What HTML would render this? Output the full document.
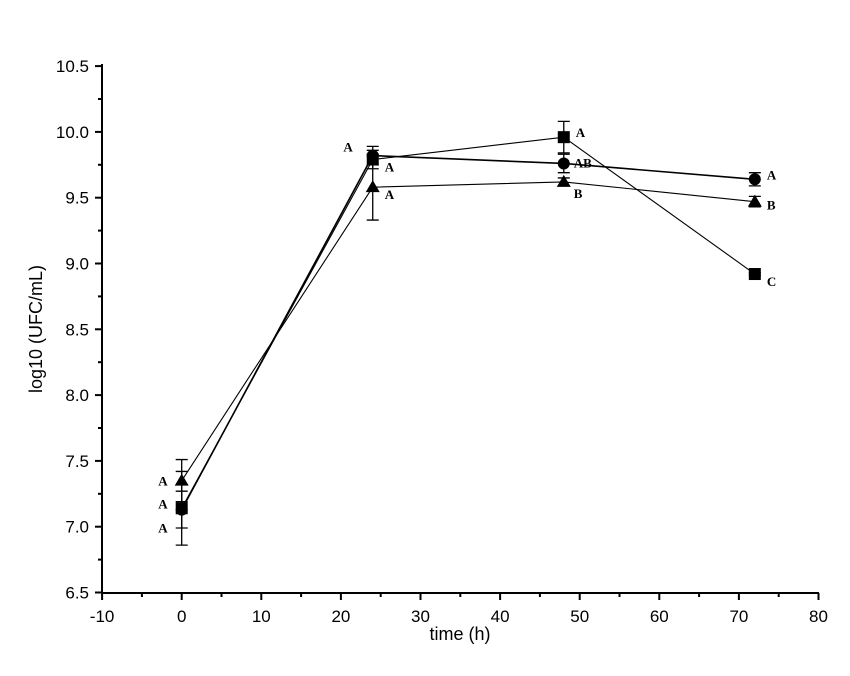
<!DOCTYPE html>
<html><head><meta charset="utf-8"><style>
body{margin:0;background:#fff}
svg{display:block;font-family:"Liberation Sans",sans-serif}
.lt{font-family:"Liberation Serif",serif;font-weight:bold;font-size:13px}
</style></head><body>
<svg width="850" height="676" id="c">
<text x="460" y="640" text-anchor="middle" font-size="18">time (h)</text>
<text transform="translate(42,329) rotate(-90)" text-anchor="middle" font-size="18">log10 (UFC/mL)</text>
</svg>
<script>
const times=[0,24,48,72];
const squareVals=[7.14,9.79,9.96,8.92];
const squareErr=[0.28,0.07,0.12,0.01];
const circleVals=[7.13,9.82,9.76,9.64];
const circleErr=[0.14,0.07,0.07,0.05];
const triVals=[7.35,9.58,9.62,9.47];
const triErr=[0.16,0.25,0.03,0.04];
const xTicks=[-10,0,10,20,30,40,50,60,70,80];
const yTicks=[6.5,7.0,7.5,8.0,8.5,9.0,9.5,10.0,10.5];
const letters=[
 ['A',0,7.35,-14,5],['A',0,7.14,-14,0],['A',0,7.0,-14,6],
 ['A',24,9.82,-20,-4],['A',24,9.79,12,12],['A',24,9.58,12,12],
 ['A',48,9.96,12,0],['AB',48,9.76,10,4],['B',48,9.62,10,16],
 ['A',72,9.64,12,0],['B',72,9.47,12,8],['C',72,8.92,12,12]];
const NS='http://www.w3.org/2000/svg',svg=document.getElementById('c');
const X=v=>181.7+(v)*7.96, Y=v=>592.5-(v-6.5)*131.6;
function mk(t,a,p){const e=document.createElementNS(NS,t);for(const k in a)e.setAttribute(k,a[k]);(p||svg).appendChild(e);return e;}
const ax=mk('g',{stroke:'#000','stroke-width':2});


mk('line',{x1:102,y1:64,x2:102,y2:593},ax);mk('line',{x1:101,y1:593,x2:819,y2:593},ax);
xTicks.forEach((t,i)=>{mk('line',{x1:X(t),x2:X(t),y1:593,y2:600},ax);
 if(i<xTicks.length-1)mk('line',{x1:X(t+5),x2:X(t+5),y1:593,y2:597},ax);
 const tx=mk('text',{x:X(t),y:622,'text-anchor':'middle','font-size':17});tx.textContent=t;
 
 });
yTicks.forEach((t,i)=>{mk('line',{x1:95,x2:102,y1:Y(t),y2:Y(t)},ax);
 if(i<yTicks.length-1)mk('line',{x1:98,x2:102,y1:Y(t+0.25),y2:Y(t+0.25)},ax);
 const tx=mk('text',{x:89,y:Y(t)+6,'text-anchor':'end','font-size':17});tx.textContent=t.toFixed(1);
 
 });
function series(name,vals,err,shape,w){
 const g=mk('g',{});
 
 
 mk('polyline',{points:times.map((t,i)=>X(t)+','+Y(vals[i])).join(' '),fill:'none',stroke:'#000','stroke-width':w},g);
 times.forEach((t,i)=>{const x=X(t),y1=Y(vals[i]+err[i]),y2=Y(vals[i]-err[i]);
  mk('path',{d:`M${x},${y1}V${y2}M${x-6},${y1}H${x+6}M${x-6},${y2}H${x+6}`,stroke:'#000','stroke-width':1.3,fill:'none'},g);
  const y=Y(vals[i]);
  if(shape=='sq')mk('rect',{x:x-6,y:y-6,width:12,height:12},g);
  else if(shape=='ci')mk('circle',{cx:x,cy:y,r:6},g);
  else mk('path',{d:`M${x},${y-7}L${x+7},${y+5}L${x-7},${y+5}Z`},g);});
}
series('series-square',squareVals,squareErr,'sq',1.1);
series('series-circle',circleVals,circleErr,'ci',1.6);
series('series-triangle',triVals,triErr,'tr',1.1);
letters.forEach(l=>{const t=mk('text',{x:X(l[1])+l[3],y:Y(l[2])+l[4],class:'lt','text-anchor':l[3]<0?'end':'start'});t.textContent=l[0];
 
 });
</script>
</body></html>
